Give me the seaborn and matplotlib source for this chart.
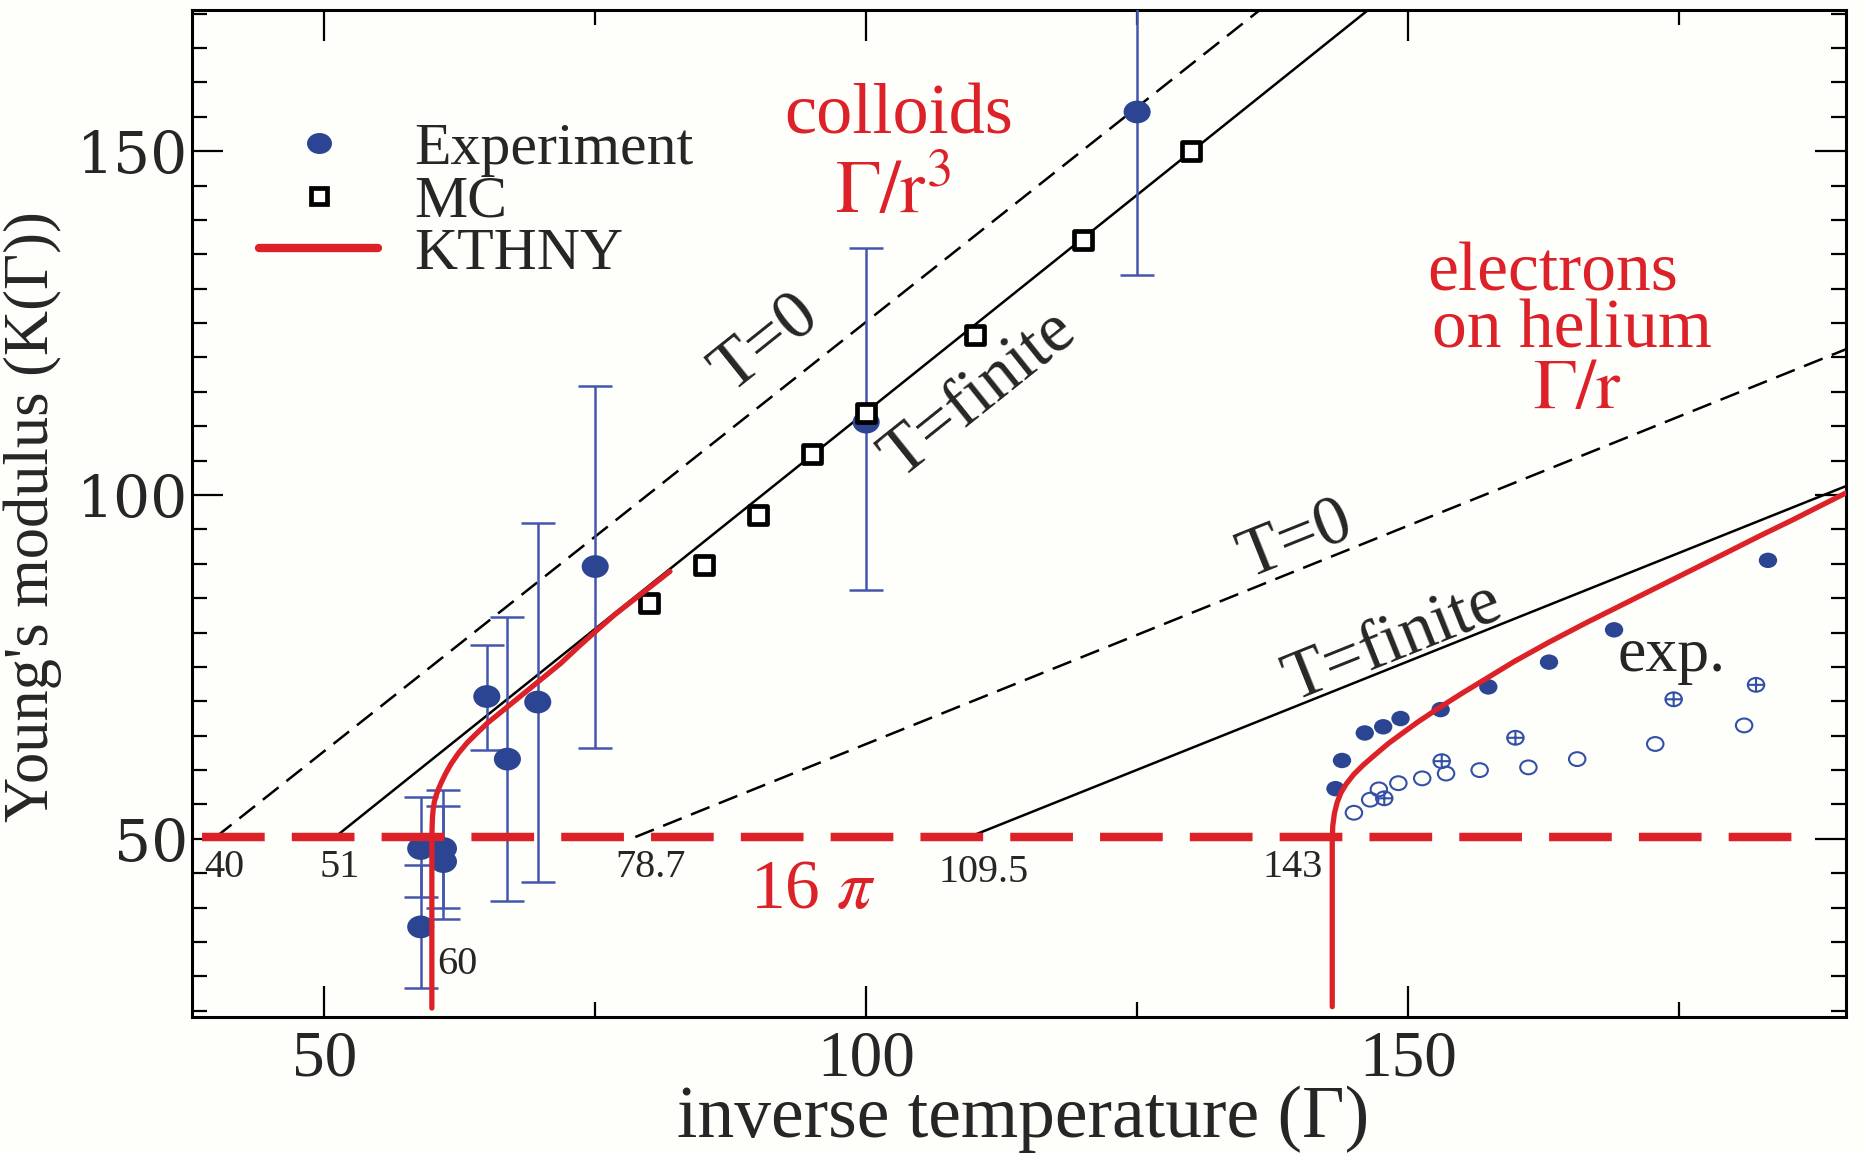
import matplotlib
matplotlib.use("Agg")
import matplotlib.pyplot as plt
from matplotlib.path import Path
from matplotlib.lines import Line2D
from matplotlib.ticker import MultipleLocator, FixedLocator
import numpy as np
import seaborn as sns

# ---------------- data ----------------
# colloids: experiment with error bars
colloid_gamma = [58.9, 58.9, 61.0, 61.0, 65.0, 66.9, 69.7, 75.0, 100.0, 125.0]
colloid_K = [48.6, 37.2, 48.6, 46.7, 70.7, 61.6, 69.9, 89.6, 110.6, 155.7]
colloid_K_low = [41.6, 28.3, 40.0, 38.3, 62.9, 40.9, 43.8, 63.2, 86.2, 132.0]
colloid_K_high = [56.1, 46.2, 57.1, 54.8, 78.2, 82.3, 95.9, 115.9, 135.9, 179.4]

# colloids: Monte Carlo
mc_gamma = [80, 85, 90, 95, 100, 110, 120, 130]
mc_K = [84.3, 89.8, 97.1, 105.9, 111.9, 123.3, 137.1, 150.0]

# straight T=0 / T=finite lines (end points)
colloid_T0_gamma = [40.0, 137.5]
colloid_T0_K = [50.27, 172.0]
colloid_Tf_gamma = [51.0, 147.0]
colloid_Tf_K = [50.27, 171.4]
electron_T0_gamma = [78.7, 190.4]
electron_T0_K = [50.27, 121.2]
electron_Tf_gamma = [109.5, 190.4]
electron_Tf_K = [50.27, 101.3]

# 16 pi threshold
threshold_gamma = [38.7, 186.5]
threshold_K = [50.27, 50.27]

# KTHNY renormalised curves
kthny_colloid_gamma = [59.93, 59.93, 59.95, 59.99, 60.05, 60.15, 60.3, 60.5, 60.8,
                       61.2, 61.7, 62.4, 63.2, 64.1, 65.1, 66.2, 67.6, 69.0,
                       70.4, 71.8, 73.5, 75.2, 76.8, 78.5, 80.2, 81.9]
kthny_colloid_K = [25.4, 49.9, 51.6, 53.2, 54.3, 55.3, 56.2, 57.1, 58.2,
                   59.5, 60.9, 62.5, 64.0, 65.4, 66.9, 68.3, 70.1, 71.9,
                   73.7, 75.5, 78.0, 80.4, 82.6, 84.7, 86.8, 88.9]
kthny_electron_gamma = [143.0, 143.0, 143.05, 143.2, 143.45, 143.8, 144.3, 145.0,
                        145.9, 147.0, 148.2, 149.5, 150.9, 152.8, 154.9, 157.3,
                        159.8, 163.0, 166.4, 169.7, 173.0, 176.3, 179.6, 182.5,
                        185.5, 188.0, 190.4]
kthny_electron_K = [25.6, 49.9, 51.9, 53.7, 55.3, 56.7, 58.0, 59.4,
                    60.8, 62.3, 63.9, 65.4, 67.0, 69.0, 71.1, 73.4,
                    75.8, 78.6, 81.4, 84.0, 86.6, 89.2, 91.8, 94.1,
                    96.4, 98.4, 100.3]

# electrons on helium: experiments
eh_filled_gamma = [143.3, 143.9, 146.0, 147.7, 149.3, 153.0, 157.4, 163.0, 169.0, 183.2]
eh_filled_K = [57.3, 61.4, 65.4, 66.3, 67.5, 68.8, 72.1, 75.7, 80.4, 90.5]
eh_open_gamma = [145.0, 146.5, 147.3, 149.1, 151.3, 153.5, 156.6, 161.1, 165.6, 172.8, 181.0]
eh_open_K = [53.8, 55.7, 57.2, 58.1, 58.8, 59.5, 60.0, 60.4, 61.6, 63.8, 66.5]
eh_cross_gamma = [147.8, 153.1, 159.9, 174.5, 182.1]
eh_cross_K = [55.9, 61.3, 64.7, 70.3, 72.4]

# ---------------- style ----------------
RED = "#dc2228"
DOT = "#2b4592"
BAR = "#4456ad"
OPEN = "#3350a6"
BG = "#fefefb"

sns.set_theme(style="ticks")
plt.rcParams["font.family"] = ["Liberation Serif", "DejaVu Serif"]
plt.rcParams["mathtext.fontset"] = "stix"
plt.rcParams["axes.unicode_minus"] = False

# slightly flattened dot marker
circ = Path.unit_circle()
ellipse = Path(circ.vertices * np.array([1.0, 0.84]), circ.codes)
cross = Path([(-1.0, 0.0), (1.0, 0.0), (0.0, -0.84), (0.0, 0.84)],
             [Path.MOVETO, Path.LINETO, Path.MOVETO, Path.LINETO])
oplus = Path.make_compound_path(ellipse, cross)

fig = plt.figure(figsize=(18.61, 11.53), dpi=100, facecolor=BG)
ax = fig.add_axes([0.10317, 0.11795, 0.88877, 0.87381])
ax.set_facecolor(BG)


def line(xs, ys, color, lw, z, dashes=None):
    sns.lineplot(x=xs, y=ys, ax=ax, color=color, lw=lw, sort=False,
                 estimator=None, zorder=z)
    ln = ax.lines[-1]
    ln.set_solid_joinstyle("round")
    if dashes is not None:
        ln.set_dashes(dashes)
        ln.set_dash_capstyle("butt")
    return ln


# theory lines
line(colloid_T0_gamma, colloid_T0_K, "black", 1.8, 2, (8.0, 4.0))
line(colloid_Tf_gamma, colloid_Tf_K, "black", 1.8, 2)
line(electron_T0_gamma, electron_T0_K, "black", 1.8, 2, (8.0, 4.0))
line(electron_Tf_gamma, electron_Tf_K, "black", 1.8, 2)

# colloid experiment
ax.errorbar(colloid_gamma, colloid_K,
            yerr=[np.subtract(colloid_K, colloid_K_low),
                  np.subtract(colloid_K_high, colloid_K)],
            fmt="none", ecolor=BAR, elinewidth=1.8, capsize=12, capthick=1.8,
            zorder=3)
sns.scatterplot(x=colloid_gamma, y=colloid_K, ax=ax, marker=ellipse, s=380,
                color=DOT, edgecolor="none", linewidth=0, zorder=4)

# Monte Carlo squares
sns.scatterplot(x=mc_gamma, y=mc_K, ax=ax, marker="s", s=165,
                facecolor="white", edgecolor="black", linewidth=3.4, zorder=5)

# electrons on helium experiments
sns.scatterplot(x=eh_filled_gamma, y=eh_filled_K, ax=ax, marker=ellipse, s=175,
                color=DOT, edgecolor="none", linewidth=0, zorder=4)
sns.scatterplot(x=eh_open_gamma, y=eh_open_K, ax=ax, marker=ellipse, s=140,
                facecolor="none", edgecolor=OPEN, linewidth=1.5, zorder=4)
sns.scatterplot(x=eh_cross_gamma, y=eh_cross_K, ax=ax, marker=oplus, s=140,
                facecolor="none", edgecolor=OPEN, linewidth=1.5, zorder=4)

# KTHNY curves
line(kthny_colloid_gamma, kthny_colloid_K, RED, 3.8, 6)
line(kthny_electron_gamma, kthny_electron_K, RED, 3.8, 6)

# 16 pi line
line(threshold_gamma, threshold_K, RED, 6.1, 7, (7.4, 3.2))

# ---------------- axes ----------------
ax.set_xlim(37.8, 190.4)
ax.set_ylim(24.1, 170.6)
ax.xaxis.set_major_locator(FixedLocator([50, 100, 150]))
ax.xaxis.set_minor_locator(MultipleLocator(25))
ax.yaxis.set_major_locator(FixedLocator([50, 100, 150]))
ax.yaxis.set_minor_locator(MultipleLocator(5))
ax.tick_params(which="both", direction="in", top=True, right=True,
               width=1.6, color="black")
ax.tick_params(which="major", length=22)
ax.tick_params(which="minor", length=11)
ax.tick_params(axis="x", pad=9, labelsize=47)
ax.tick_params(axis="y", pad=3, labelsize=42)
for lab in ax.get_yticklabels():
    lab.set_fontfamily("DejaVu Serif")
for sp in ax.spines.values():
    sp.set_linewidth(2.2)
    sp.set_color("black")

ax.set_xlabel("inverse temperature (Γ)", fontsize=53)
ax.xaxis.set_label_coords(0.5025, -0.101)
ax.xaxis.label.set_va("center")
ax.set_ylabel("Young's modulus (K(Γ))", fontsize=45)
ax.yaxis.set_label_coords(-0.0965, 0.497)
ax.yaxis.label.set_va("center")

# ---------------- annotations ----------------
def rot(pts):
    (x0, y0), (x1, y1) = pts
    p0 = ax.transData.transform((x0, y0))
    p1 = ax.transData.transform((x1, y1))
    return np.degrees(np.arctan2(p1[1] - p0[1], p1[0] - p0[0]))


a_col = rot(list(zip(colloid_Tf_gamma, colloid_Tf_K)))
a_el = rot(list(zip(electron_Tf_gamma, electron_Tf_K)))

ax.text(90.8, 122.0, "T=0", fontsize=50, rotation=a_col, rotation_mode="anchor",
        ha="center", va="center")
ax.text(110.4, 114.6, "T=finite", fontsize=50, rotation=a_col,
        rotation_mode="anchor", ha="center", va="center")
ax.text(139.7, 93.2, "T=0", fontsize=50, rotation=a_el, rotation_mode="anchor",
        ha="center", va="center")
ax.text(148.6, 78.6, "T=finite", fontsize=50, rotation=a_el,
        rotation_mode="anchor", ha="center", va="center")
ax.text(174.3, 74.4, "exp.", fontsize=46, ha="center", va="baseline")

ax.text(103.0, 152.6, "colloids", fontsize=52, color=RED, ha="center", va="baseline")
ax.text(102.5, 140.9, r"$\mathrm{\Gamma/r}^{3}$", fontsize=54, color=RED,
        ha="center", va="baseline")
ax.text(163.3, 129.8, "electrons", fontsize=50, color=RED, ha="center", va="baseline")
ax.text(165.1, 121.4, "on helium", fontsize=50, color=RED, ha="center", va="baseline")
ax.text(165.6, 112.7, r"$\mathrm{\Gamma/r}$", fontsize=52, color=RED,
        ha="center", va="baseline")

ax.text(89.3, 40.0, r"16 $\pi$", fontsize=50, color=RED, ha="left", va="baseline")

for gx, gy, txt in [(38.9, 44.5, "40"), (49.6, 44.5, "51"), (76.9, 44.5, "78.7"),
                    (106.7, 43.8, "109.5"), (136.6, 44.5, "143"), (60.4, 30.3, "60")]:
    ax.text(gx, gy, txt, fontsize=29, ha="left", va="baseline")

# legend
handles = [
    Line2D([], [], marker=ellipse, color=DOT, ls="none", ms=18, mew=0),
    Line2D([], [], marker="s", mfc="white", mec="black", mew=3.4, ls="none", ms=11),
    Line2D([], [], color=RED, lw=6),
]
leg = ax.legend(handles, ["Experiment", "MC", "KTHNY"], loc="upper left",
                bbox_to_anchor=(0.0405, 0.888), frameon=False, fontsize=43,
                handlelength=2.0, handletextpad=0.6, labelspacing=-0.04,
                borderpad=0, borderaxespad=0)

fig.savefig("out.png", dpi=100, facecolor=BG)
